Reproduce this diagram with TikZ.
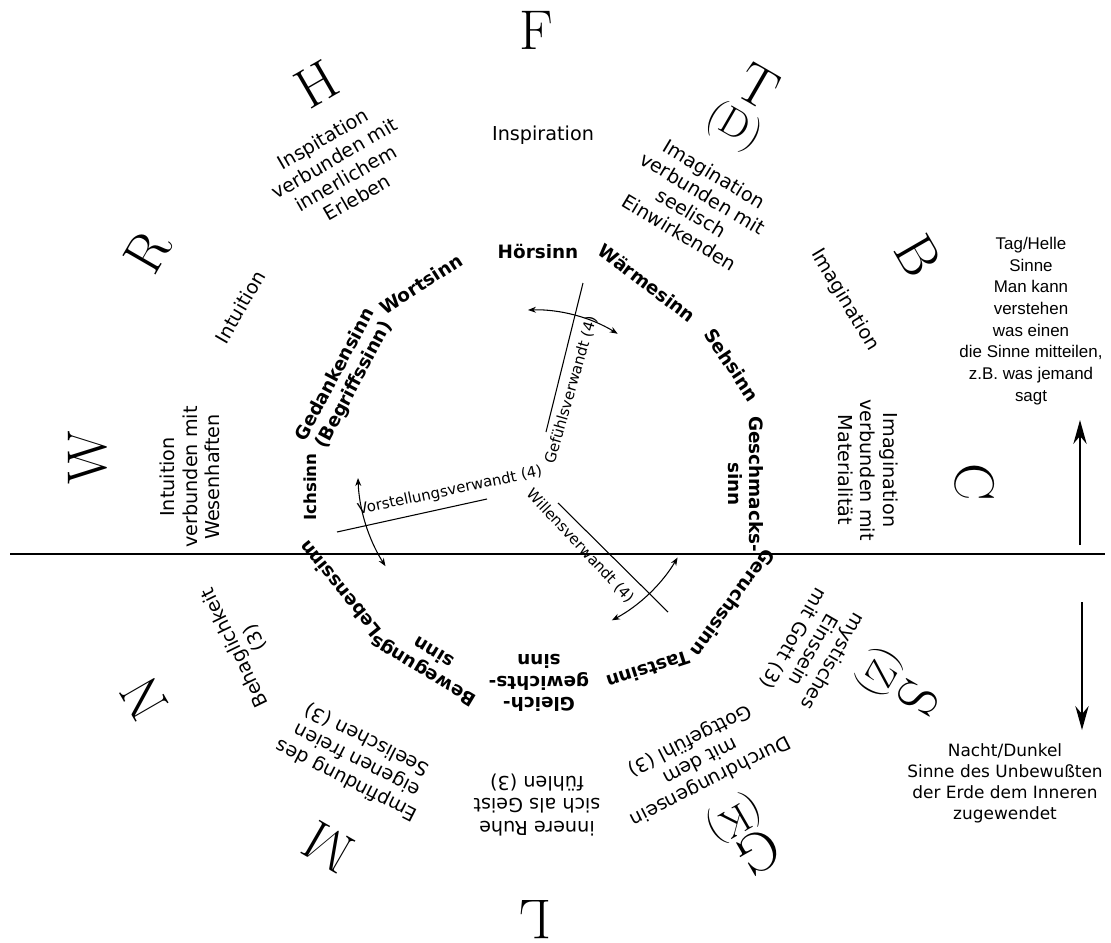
\documentclass[tikz,border=0pt]{standalone}
\usepackage{fontspec}
\newfontfamily\dv{DejaVu Sans}
\newfontfamily\lib{Liberation Sans}
\usetikzlibrary{arrows.meta}
\begin{document}
\begin{tikzpicture}[x=0.75pt,y=-0.75pt,
  letter/.style={font=\fontsize{42}{46}\selectfont, inner sep=0},
  subletter/.style={font=\fontsize{30}{32}\selectfont, inner sep=0},
  ring/.style={font=\dv\fontsize{14.4}{17}\selectfont, align=center, inner sep=0},
  sense/.style={font=\dv\bfseries\fontsize{13.8}{16}\selectfont, align=center, inner sep=0},
  rel/.style={font=\dv\fontsize{11.2}{13}\selectfont, inner sep=0},
  relline/.style={line width=0.8pt},
  relarc/.style={line width=0.8pt, {Stealth[length=6pt,width=4.5pt]}-{Stealth[length=6pt,width=4.5pt]}},
  bigarrow/.style={line width=1.1pt, -{Stealth[length=18pt,width=10pt,inset=6pt]}},
  sidetext/.style={align=center, inner sep=0}
]
\useasboundingbox (0,0) rectangle (1111,943);

% outer letters
\node[letter] (F) at (536,30) {F};
\node[letter, rotate=-30] (T) at (758,86) {T};
\node[subletter, rotate=-30] (D) at (734,127) {(D)};
\node[letter, rotate=-60] (B) at (918,256) {B};
\node[letter, rotate=-90] (C) at (975,482) {C};
\node[letter, rotate=-120] (S) at (918,698) {S};
\node[subletter, rotate=-120] (Z) at (879,672) {(Z)};
\node[letter, rotate=-150] (G) at (758,852) {G};
\node[subletter, rotate=-150] (K) at (734,818) {(K)};
\node[letter, rotate=180] (L) at (535,920) {L};
\node[letter, rotate=150] (M) at (328,847) {M};
\node[letter, rotate=120] (N) at (144,698) {N};
\node[letter, rotate=90] (W) at (88,458) {W};
\node[letter, rotate=60] (R) at (148,252) {R};
\node[letter, rotate=30] (H) at (317,84) {H};

% middle ring
\node[ring] (r1) at (543,135) {Inspiration};
\node[ring, rotate=-31] (r2) at (697,203) {Imagination\\verbunden mit\\seelisch\\Einwirkenden};
\node[ring, rotate=-59] (r3) at (845,300) {Imagination};
\node[ring, rotate=-90] (r4) at (868,470) {Imagination\\verbunden mit\\Materialität};
\node[ring, rotate=-120] (r5) at (813,650) {mystisches\\Einssein\\mit Gott (3)};
\node[ring, rotate=-153] (r6) at (700,760) {Durchdrungensein\\mit dem\\Gottgefühl (3)};
\node[ring, rotate=180] (r7) at (537,805) {innere Ruhe\\sich als Geist\\fühlen (3)};
\node[ring, rotate=153] (r8) at (357,760) {Empfindung des\\eigenen freien\\Seelischen (3)};
\node[ring, rotate=116] (r9) at (245,643) {Behaglichkeit\\(3)};
\node[ring, rotate=90] (r10) at (190,477) {Intuition\\verbunden mit\\Wesenhaften};
\node[ring, rotate=60] (r11) at (240,307) {Intuition};
\node[ring, rotate=30] (r12) at (340,168) {Inspitation\\verbunden mit\\innerlichem\\Erleben};

% senses
\node[sense] (s1) at (538,252) {Hörsinn};
\node[sense, rotate=-37] (s2) at (647,283) {Wärmesinn};
\node[sense, rotate=-56] (s3) at (732,365) {Sehsinn};
\node[sense, rotate=-90] (s4) at (746,484) {Geschmacks-\\sinn};
\node[sense, rotate=-126] (s5) at (733,603) {Geruchssinn};
\node[sense, rotate=-162] (s6) at (648,670) {Tastsinn};
\node[sense, rotate=180] (s7) at (539,683) {Gleich-\\gewichts-\\sinn};
\node[sense, rotate=149] (s8) at (428,662) {Bewegungs\\sinn};
\node[sense, rotate=129] (s9) at (340,589) {Lebenssinn};
\node[sense, rotate=90, font=\dv\bfseries\fontsize{12.5}{14}\selectfont] (s10) at (310,487) {Ichsinn};
\node[sense, rotate=62] (s11) at (345,380) {Gedankensinn\\(Begriffssinn)};
\node[sense, rotate=33] (s12) at (421,284) {Wortsinn};

% relation lines
\coordinate (g1) at (583,283);
\coordinate (g2) at (546,432);
\coordinate (v1) at (337,532);
\coordinate (v2) at (487,499);
\coordinate (w1) at (558,503);
\coordinate (w2) at (668,612);
\draw[relline] (g1) -- (g2);
\draw[relline] (v1) -- (v2);
\draw[relline] (w1) -- (w2);
\node[rel, rotate=74] (gl) at (571,390) {Gefühlsverwandt (4)};
\node[rel, rotate=12] (vl) at (450,491) {Vorstellungsverwandt (4)};
\node[rel, rotate=-47] (wl) at (580,546) {Willensverwandt (4)};

% relation arcs
\coordinate (aTop) at (528,310);
\coordinate (aLeft) at (358,478);
\coordinate (aRight) at (677.6,557.5);
\draw[relarc] (aTop) arc[start angle=-91.8, end angle=-58.5, radius=162];
\draw[relarc] (aLeft) arc[start angle=-182, end angle=-212.6, radius=175];
\draw[relarc] (aRight) arc[start angle=30.6, end angle=62, radius=168];

% horizon
\coordinate (h1) at (10,554);
\coordinate (h2) at (1105,554);
\draw[line width=1.4pt] (h1) -- (h2);

% right side
\coordinate (up1) at (1080,545);
\coordinate (up2) at (1080,420);
\coordinate (dn1) at (1082,602);
\coordinate (dn2) at (1082,730);
\draw[bigarrow] (up1) -- (up2);
\draw[bigarrow] (dn1) -- (dn2);
\node[sidetext, font=\lib\fontsize{12.7}{16.3}\selectfont] (tag) at (1031,321) {Tag/Helle\\Sinne\\Man kann\\verstehen\\was einen\\die Sinne mitteilen,\\z.B. was jemand\\sagt};
\node[sidetext, font=\dv\fontsize{12.7}{15.8}\selectfont] (nacht) at (1005,783) {Nacht/Dunkel\\Sinne des Unbewußten\\der Erde dem Inneren\\zugewendet};
\end{tikzpicture}
\end{document}
